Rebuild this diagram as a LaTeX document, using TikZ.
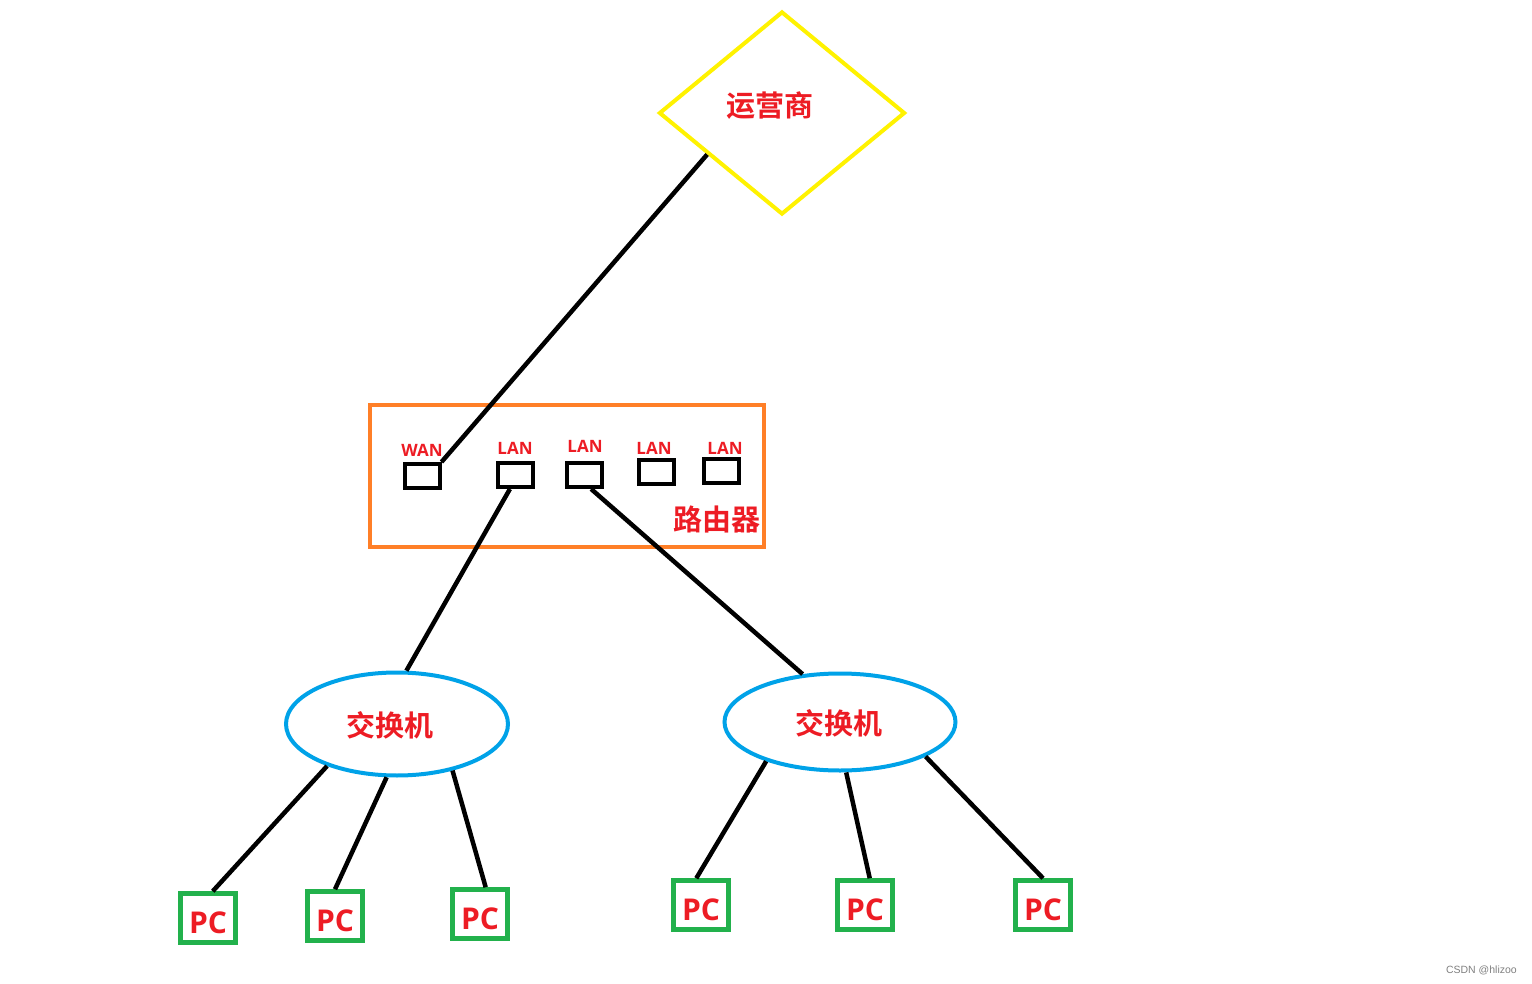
\documentclass[tikz,border=0pt]{standalone}
\usepackage{fontspec}
\setmainfont{Open Sans}
\newfontfamily\cjk{Noto Sans CJK SC}[BoldFont={Noto Sans CJK SC Bold}]
\newfontfamily\marksf{Liberation Sans}
\usetikzlibrary{shapes.geometric}
\definecolor{paintred}{RGB}{237,28,36}
\definecolor{paintyellow}{RGB}{255,242,0}
\definecolor{paintorange}{RGB}{255,127,39}
\definecolor{paintblue}{RGB}{0,162,232}
\definecolor{paintgreen}{RGB}{34,177,76}
\tikzset{
  ispbox/.style={diamond,draw=paintyellow,line width=4pt,minimum width=246pt,minimum height=203pt,aspect=1.21,inner sep=0pt},
  routerbox/.style={rectangle,draw=paintorange,line width=4pt,minimum width=394pt,minimum height=142pt,inner sep=0pt},
  portbox/.style={rectangle,draw=black,line width=4pt,minimum width=35pt,minimum height=24pt,inner sep=0pt},
  portlabel/.style={text=paintred,font=\fontsize{17}{20}\selectfont\bfseries,inner sep=0pt},
  switchbox/.style={ellipse,draw=paintblue,line width=4pt,inner sep=0pt},
  pcbox/.style={rectangle,draw=paintgreen,line width=4.5pt,minimum width=55pt,minimum height=49pt,inner sep=0pt,text height=31pt,text=paintred,font=\fontsize{30}{34}\selectfont\bfseries},
  cnlabel/.style={text=paintred,font=\cjk\fontsize{29}{34}\selectfont\bfseries,inner sep=0pt},
  wire/.style={draw=black,line width=4.5pt}
}
\begin{document}
\begin{tikzpicture}[x=1pt,y=-1pt]
\useasboundingbox (0,0) rectangle (1532,984);
% provider and router
\node[ispbox] (isp) at (782,113) {};
\node[cnlabel] (ispname) at (770,106) {运营商};
\node[routerbox] (router) at (567,476) {};
\node[cnlabel] (routername) at (717,519) {路由器};
\node[portbox] (wan) at (422,476) {};
\node[portbox] (lan1) at (515,475) {};
\node[portbox] (lan2) at (584,475) {};
\node[portbox] (lan3) at (656,472) {};
\node[portbox] (lan4) at (721,471) {};
\node[portlabel] (wantext) at (422,450) {WAN};
\node[portlabel] (lan1text) at (515,448) {LAN};
\node[portlabel] (lan2text) at (585,446) {LAN};
\node[portlabel] (lan3text) at (654,448) {LAN};
\node[portlabel] (lan4text) at (725,448) {LAN};
% switches
\node[switchbox,minimum width=222pt,minimum height=103pt] (sw1) at (397,724) {};
\node[cnlabel] (sw1name) at (390,725) {交换机};
\node[switchbox,minimum width=231pt,minimum height=97pt] (sw2) at (840,722) {};
\node[cnlabel] (sw2name) at (839,723) {交换机};
% hosts
\node[pcbox] (pc1) at (208,918) {PC};
\node[pcbox] (pc2) at (335,916) {PC};
\node[pcbox] (pc3) at (480,914) {PC};
\node[pcbox] (pc4) at (701,905) {PC};
\node[pcbox] (pc5) at (865,905) {PC};
\node[pcbox] (pc6) at (1043,905) {PC};
\draw[wire] (wan.north east) -- (isp.209);
\draw[wire] (lan1.-110) -- (sw1.80);
\draw[wire] (lan2.-63) -- (sw2.128);
\draw[wire] (sw1.211) -- (pc1.80);
\draw[wire] (sw1.259) -- (pc2.north);
\draw[wire] (sw1.-40) -- (pc3.78);
\draw[wire] (sw2.208) -- (pc4.100);
\draw[wire] (sw2.277) -- (pc5.80);
\draw[wire] (sw2.-22) -- (pc6.north);
\node[text=gray,font=\marksf\fontsize{10.5}{12}\selectfont,anchor=east,inner sep=0pt] (mark) at (1517,970) {CSDN @hlizoo};
\end{tikzpicture}
\end{document}
